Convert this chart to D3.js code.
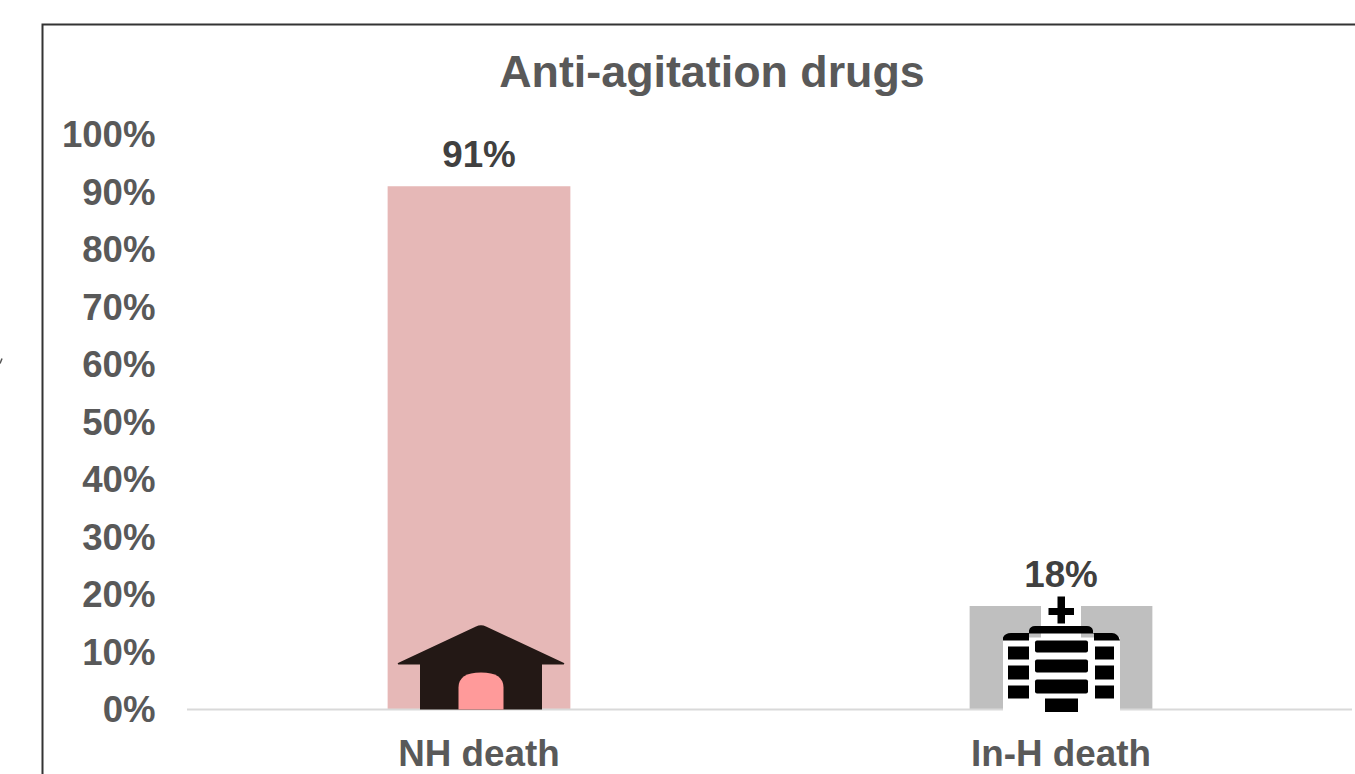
<!DOCTYPE html>
<html>
<head>
<meta charset="utf-8">
<script src="https://cdn.jsdelivr.net/npm/d3@7"></script>
<style>
  html, body { margin: 0; padding: 0; background: #fff; overflow: hidden; }
  text { font-family: "Liberation Sans", Arial, sans-serif; font-weight: bold; }
</style>
</head>
<body>
<svg id="chart" width="1355" height="774"></svg>
<script>
const chartTitle = "Anti-agitation drugs";
const categories = ["NH death", "In-H death"];
const values = [91, 18];
const barColors = ["#e6b8b7", "#bfbfbf"];
const tickValues = [0, 10, 20, 30, 40, 50, 60, 70, 80, 90, 100];

const svg = d3.select("#chart");

const x = d3.scaleBand().domain(categories).range([188, 1352]).paddingInner(0.686).paddingOuter(0.343);
const y = d3.scaleLinear().domain([0, 100]).range([709.5, 134.5]);

// Outer frame, open on the right and bottom
svg.append("path")
  .attr("d", "M42.5,774V24.5H1355")
  .attr("fill", "none")
  .attr("stroke", "#333")
  .attr("stroke-width", 2);

// Small stray stroke left of the frame
svg.append("path")
  .attr("d", "M0,363.5L2,358.5")
  .attr("fill", "none")
  .attr("stroke", "#555")
  .attr("stroke-width", 1.5);

svg.append("text")
  .attr("x", 712).attr("y", 87)
  .attr("text-anchor", "middle")
  .attr("font-size", 44.8)
  .attr("fill", "#595959")
  .text(chartTitle);

// Value axis: labels only
const yAxis = d3.axisLeft(y).tickValues(tickValues).tickSize(0).tickPadding(0).tickFormat(d => d + "%");
const yG = svg.append("g").attr("transform", "translate(155.5,0.5)").call(yAxis);
yG.select(".domain").remove();
yG.selectAll("text")
  .attr("font-size", 36.6)
  .attr("fill", "#595959")
  .attr("font-family", null);

// Bars
svg.selectAll("rect.bar")
  .data(categories)
  .join("rect")
  .attr("class", "bar")
  .attr("x", d => x(d))
  .attr("width", x.bandwidth())
  .attr("y", (d, i) => y(values[i]))
  .attr("height", (d, i) => y(0) - y(values[i]))
  .attr("fill", (d, i) => barColors[i]);

// Category axis: baseline and labels
svg.append("line")
  .attr("x1", 187).attr("x2", 1352)
  .attr("y1", y(0)).attr("y2", y(0))
  .attr("stroke", "#d9d9d9")
  .attr("stroke-width", 2);

svg.selectAll("text.cat")
  .data(categories)
  .join("text")
  .attr("class", "cat")
  .attr("x", d => x(d) + x.bandwidth() / 2)
  .attr("y", 766)
  .attr("text-anchor", "middle")
  .attr("font-size", 36.8)
  .attr("fill", "#595959")
  .text(d => d);

// Data labels
svg.selectAll("text.val")
  .data(values)
  .join("text")
  .attr("class", "val")
  .attr("x", (d, i) => x(categories[i]) + x.bandwidth() / 2)
  .attr("y", d => y(d) - 19)
  .attr("text-anchor", "middle")
  .attr("font-size", 36.8)
  .attr("fill", "#404040")
  .text(d => d + "%");

// House pictogram, local origin at the bar's base centre
const house = svg.append("g")
  .attr("transform", `translate(${x(categories[0]) + x.bandwidth() / 2 + 2},${y(0)})`);
house.append("path")
  .attr("d", "M-83,-46.5Q-84,-45 -81,-45H-61V0H61V-45H81Q84,-45 83,-46.5L5,-83Q0,-85.5 -5,-83Z")
  .attr("fill", "#231815");
house.append("path")
  .attr("d", "M-22.5,0V-22Q-22.5,-37 0,-37Q22.5,-37 22.5,-22V0Z")
  .attr("fill", "#ff9a9a");

// Hospital pictogram, local origin at the bar's base centre
const hospital = svg.append("g")
  .attr("transform", `translate(${x(categories[1]) + x.bandwidth() / 2},${y(0)})`);
hospital.append("path")
  .attr("d", "M-58,2V-72H-20V-116H20V-72H59V2Z")
  .attr("fill", "#fff");
hospital.append("path")
  .attr("d", "M-12.5,-101.5H-3.5V-113H4V-101.5H13V-94.5H4V-86H-3.5V-94.5H-12.5Z")
  .attr("fill", "#000");
hospital.append("path")
  .attr("d", "M-58,-69V-72Q-56,-76.5 -50,-76.5H-32V-79Q-31,-83.5 -26,-83.5H26Q31,-83.5 32,-79V-76.5H51Q57,-76.5 59,-69H33V-76H-32V-69Z")
  .attr("fill", "#000");

const windowRows = [
  { dy: -63, h: 13 },
  { dy: -44, h: 14 },
  { dy: -24, h: 13 }
];
const centreRows = [
  { dy: -69, h: 12 },
  { dy: -50, h: 13 },
  { dy: -30, h: 14 }
];
windowRows.forEach(r => {
  hospital.append("rect").attr("x", -53).attr("y", r.dy).attr("width", 21).attr("height", r.h).attr("fill", "#000");
  hospital.append("rect").attr("x", 34).attr("y", r.dy).attr("width", 19).attr("height", r.h).attr("fill", "#000");
});
centreRows.forEach(r => {
  hospital.append("rect").attr("x", -26).attr("y", r.dy).attr("width", 53).attr("height", r.h).attr("rx", 2).attr("fill", "#000");
});
hospital.append("rect").attr("x", -16).attr("y", -11).attr("width", 33).attr("height", 13.5).attr("fill", "#000");
</script>
</body>
</html>
